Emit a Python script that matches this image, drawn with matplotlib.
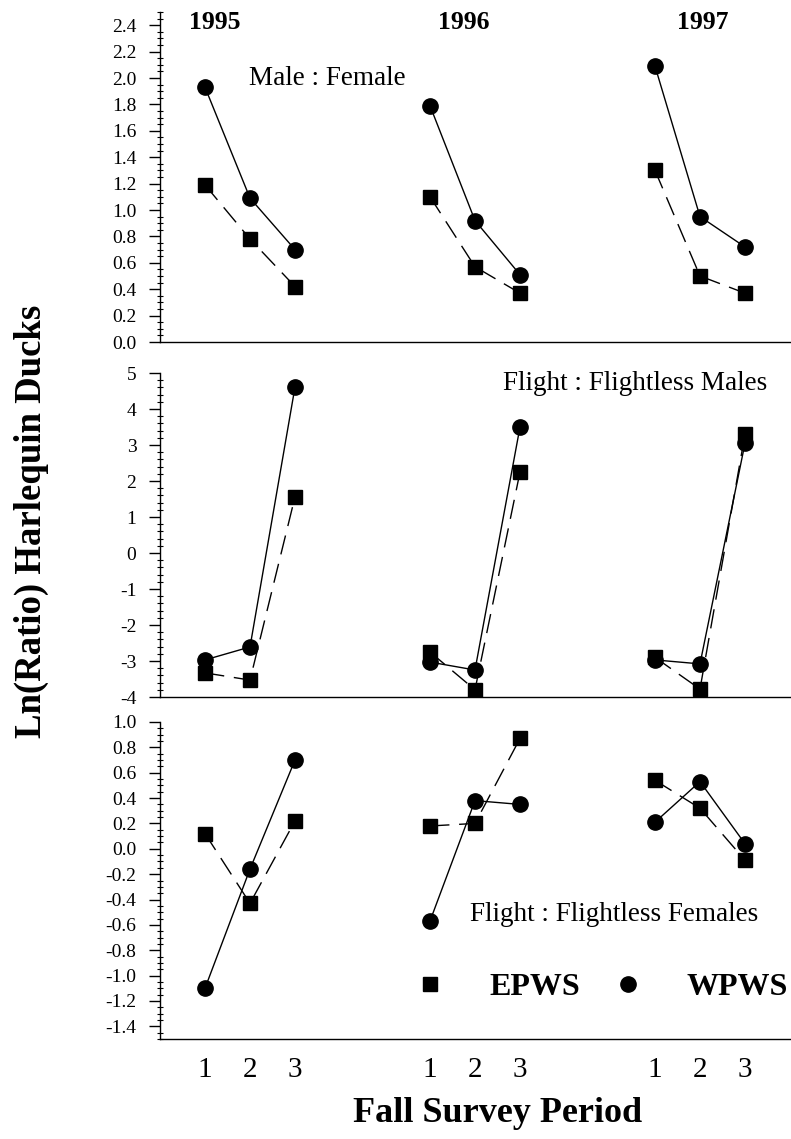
import matplotlib
matplotlib.use("Agg")
import matplotlib.pyplot as plt
from matplotlib.lines import Line2D
from matplotlib.ticker import MultipleLocator, FormatStrFormatter

# ---- data ----
years = ["1995", "1996", "1997"]
periods = [1, 2, 3]

# Male : Female
mf_epws = [[1.19, 0.78, 0.42], [1.10, 0.57, 0.37], [1.30, 0.50, 0.37]]
mf_wpws = [[1.93, 1.09, 0.70], [1.79, 0.92, 0.51], [2.09, 0.95, 0.72]]

# Flight : Flightless Males
fm_epws = [[-3.33, -3.53, 1.56], [-2.75, -3.80, 2.25], [-2.90, -3.78, 3.30]]
fm_wpws = [[-2.97, -2.61, 4.61], [-3.03, -3.25, 3.50], [-2.97, -3.08, 3.05]]

# Flight : Flightless Females
ff_epws = [[0.12, -0.43, 0.22], [0.18, 0.20, 0.87], [0.54, 0.32, -0.09]]
ff_wpws = [[-1.10, -0.16, 0.70], [-0.57, 0.38, 0.35], [0.21, 0.53, 0.04]]

GROUP_GAP = 5  # x offset between years

plt.rcParams.update({
    "font.family": ["Liberation Serif", "DejaVu Serif"],
    "axes.unicode_minus": False,
    "axes.linewidth": 1.0,
})

W, H = 791, 1139
fig = plt.figure(figsize=(W / 100, H / 100), dpi=100)


def px_axes(top, bottom, left=160, right=790):
    return fig.add_axes([left / W, 1 - bottom / H, (right - left) / W, (bottom - top) / H])


ax1 = px_axes(12, 342)
ax2 = px_axes(373, 697)
ax3 = px_axes(722, 1039)

panels = [
    (ax1, mf_epws, mf_wpws, (0, 2.5), 0.2, 0.05, "%.1f"),
    (ax2, fm_epws, fm_wpws, (-4, 5), 1, 0.2, "%d"),
    (ax3, ff_epws, ff_wpws, (-1.5, 1.0), 0.2, 0.05, "%.1f"),
]

for ax, epws, wpws, ylim, major, minor, fmt in panels:
    for g in range(len(years)):
        xs = [GROUP_GAP * g + p for p in periods]
        ax.plot(xs, wpws[g], color="black", lw=1.0, ls="-", marker="o",
                ms=11, zorder=3)
        ax.plot(xs, epws[g], color="black", lw=1.0, ls=(0, (14, 7)), marker="s",
                ms=9.5, zorder=3)
    ax.set_xlim(0, 14)
    ax.set_ylim(*ylim)
    ax.yaxis.set_major_locator(MultipleLocator(major))
    ax.yaxis.set_minor_locator(MultipleLocator(minor))
    ax.yaxis.set_major_formatter(FormatStrFormatter(fmt))
    ax.tick_params(axis="y", which="major", direction="out", length=8, width=1,
                   pad=9, labelsize=14)
    ax.tick_params(axis="y", which="minor", direction="inout", length=5, width=0.8)
    ax.spines["top"].set_visible(False)
    ax.spines["right"].set_visible(False)
    ax.set_xticks([])

# x tick labels only on the bottom panel
xt = [GROUP_GAP * g + p for g in range(len(years)) for p in periods]
ax3.set_xticks(xt)
ax3.set_xticklabels([str(p) for g in years for p in periods])
ax3.tick_params(axis="x", length=0, pad=13, labelsize=21)

# year headings
year_x = [1.22, 6.76, 12.07]
for yx, yr in zip(year_x, years):
    ax1.text(yx, 2.42, yr, ha="center", va="center", fontsize=18.5,
             fontweight="bold", clip_on=False)

ax1.text(1.98, 2.0, "Male : Female", ha="left", va="center", fontsize=19.5)
ax2.text(7.62, 4.72, "Flight : Flightless Males", ha="left", va="center", fontsize=19.5)
ax3.text(6.89, -0.52, "Flight : Flightless Females", ha="left", va="center", fontsize=19.5)

handles = [
    Line2D([], [], color="black", marker="s", ls="none", ms=10),
    Line2D([], [], color="black", marker="o", ls="none", ms=11),
]
ax3.legend(handles, ["EPWS", "WPWS"], ncol=2, frameon=False, loc="center",
           bbox_to_anchor=(0.70, 0.164), handlelength=1.0, handletextpad=1.35,
           columnspacing=1.0, prop={"family": "Liberation Serif", "weight": "bold", "size": 23})

fig.text(498 / W, 1 - 1122 / H, "Fall Survey Period", ha="center", va="baseline",
         fontsize=26, fontweight="bold")
fig.text(31 / W, 1 - 521 / H, "Ln(Ratio) Harlequin Ducks", ha="center", va="center",
         rotation=90, fontsize=26.5, fontweight="bold")

fig.savefig("out.png", dpi=100)
